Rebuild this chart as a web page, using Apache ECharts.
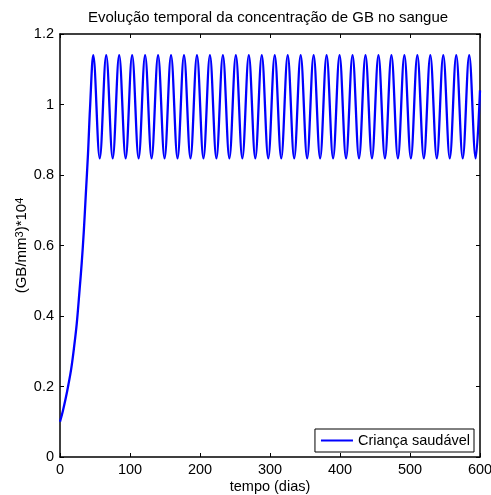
<!DOCTYPE html>
<html>
<head>
<meta charset="utf-8">
<script src="https://cdn.jsdelivr.net/npm/echarts@6/dist/echarts.min.js"></script>
<style>
html,body{margin:0;padding:0;background:#fff;}
#chart{width:491px;height:495px;}
</style>
</head>
<body>
<div id="chart"></div>
<script>
// Values
var days = [0, 4, 8, 12, 16, 20, 24, 28, 31, 34, 37, 40, 42.9,
  47.5, 56.76, 66.02, 75.28, 84.54, 93.80, 103.06, 112.32, 121.58, 130.84,
  140.10, 149.36, 158.62, 167.88, 177.14, 186.40, 195.66, 204.92, 214.18, 223.44,
  232.70, 241.96, 251.22, 260.48, 269.74, 279.00, 288.26, 297.52, 306.78, 316.04,
  325.30, 334.56, 343.82, 353.08, 362.34, 371.60, 380.86, 390.12, 399.38, 408.64,
  417.90, 427.16, 436.42, 445.68, 454.94, 464.20, 473.46, 482.72, 491.98, 501.24,
  510.50, 519.76, 529.02, 538.28, 547.54, 556.80, 566.06, 575.32, 584.58, 593.84,
  600];
var concentration = [0.10, 0.13, 0.165, 0.205, 0.25, 0.31, 0.38, 0.475, 0.55, 0.64, 0.75, 0.86, 0.99,
  1.14, 0.847, 1.14, 0.847, 1.14, 0.847, 1.14, 0.847, 1.14, 0.847,
  1.14, 0.847, 1.14, 0.847, 1.14, 0.847, 1.14, 0.847, 1.14, 0.847,
  1.14, 0.847, 1.14, 0.847, 1.14, 0.847, 1.14, 0.847, 1.14, 0.847,
  1.14, 0.847, 1.14, 0.847, 1.14, 0.847, 1.14, 0.847, 1.14, 0.847,
  1.14, 0.847, 1.14, 0.847, 1.14, 0.847, 1.14, 0.847, 1.14, 0.847,
  1.14, 0.847, 1.14, 0.847, 1.14, 0.847, 1.14, 0.847, 1.14, 0.847,
  1.04];
var seriesName = 'Criança saudável';
var titleText = 'Evolução temporal da concentração de GB no sangue';
var xName = 'tempo (dias)';
var yName = '(GB/mm{sup|3})*10{sup|4}';

var FONT = '"Liberation Sans", Arial, Helvetica, sans-serif';
var chart = echarts.init(document.getElementById('chart'), null, {renderer: 'canvas'});
var data = days.map(function (d, i) { return [d, concentration[i]]; });

var axisLineStyle = {show: true, onZero: false, lineStyle: {color: '#000', width: 1.5}};
var tickStyle = {show: true, inside: true, length: 4, lineStyle: {color: '#000', width: 1}};
var labelStyle = {color: '#000', fontSize: 14.5, fontFamily: FONT};

chart.setOption({
  backgroundColor: '#fff',
  animation: false,
  title: {
    text: titleText,
    left: 268,
    textAlign: 'center',
    top: 10,
    padding: 0,
    textStyle: {color: '#000', fontSize: 15, fontWeight: 'normal', fontFamily: FONT}
  },
  grid: {left: 60, right: 11, top: 34, bottom: 38, containLabel: false, outerBoundsMode: 'none'},
  legend: {
    data: [{name: seriesName, icon: 'rect'}],
    right: 17,
    top: 429,
    orient: 'vertical',
    backgroundColor: '#fff',
    borderColor: '#000',
    borderWidth: 1,
    borderRadius: 0,
    padding: [4, 4, 4, 6],
    itemWidth: 32,
    itemHeight: 2,
    textStyle: {color: '#000', fontSize: 14.5, fontFamily: FONT}
  },
  xAxis: [{
    type: 'value', min: 0, max: 600, interval: 100,
    position: 'bottom',
    name: xName, nameLocation: 'middle', nameGap: 22, nameMoveOverlap: false,
    nameTextStyle: {color: '#000', fontSize: 14.5, fontFamily: FONT},
    axisLine: axisLineStyle, axisTick: tickStyle,
    axisLabel: Object.assign({margin: 5}, labelStyle),
    splitLine: {show: false}
  }, {
    type: 'value', min: 0, max: 600, interval: 100,
    position: 'top',
    axisLine: axisLineStyle, axisTick: tickStyle,
    axisLabel: {show: false}, splitLine: {show: false}
  }],
  yAxis: [{
    type: 'value', min: 0, max: 1.2, interval: 0.2,
    position: 'left',
    name: yName, nameLocation: 'middle', nameGap: 31, nameRotate: 90, nameMoveOverlap: false,
    nameTextStyle: {
      color: '#000', fontSize: 15, fontFamily: FONT,
      rich: {sup: {fontSize: 11, fontFamily: FONT, color: '#000', verticalAlign: 'top'}}
    },
    axisLine: axisLineStyle, axisTick: tickStyle,
    axisLabel: Object.assign({margin: 6}, labelStyle),
    splitLine: {show: false}
  }, {
    type: 'value', min: 0, max: 1.2, interval: 0.2,
    position: 'right',
    axisLine: axisLineStyle, axisTick: tickStyle,
    axisLabel: {show: false}, splitLine: {show: false}
  }],
  series: [{
    name: seriesName,
    type: 'line',
    xAxisIndex: 0,
    yAxisIndex: 0,
    data: data,
    smooth: 0.36,
    symbol: 'none',
    lineStyle: {color: '#0000ff', width: 2.3},
    itemStyle: {color: '#0000ff'},
    clip: true
  }]
});
</script>
</body>
</html>
